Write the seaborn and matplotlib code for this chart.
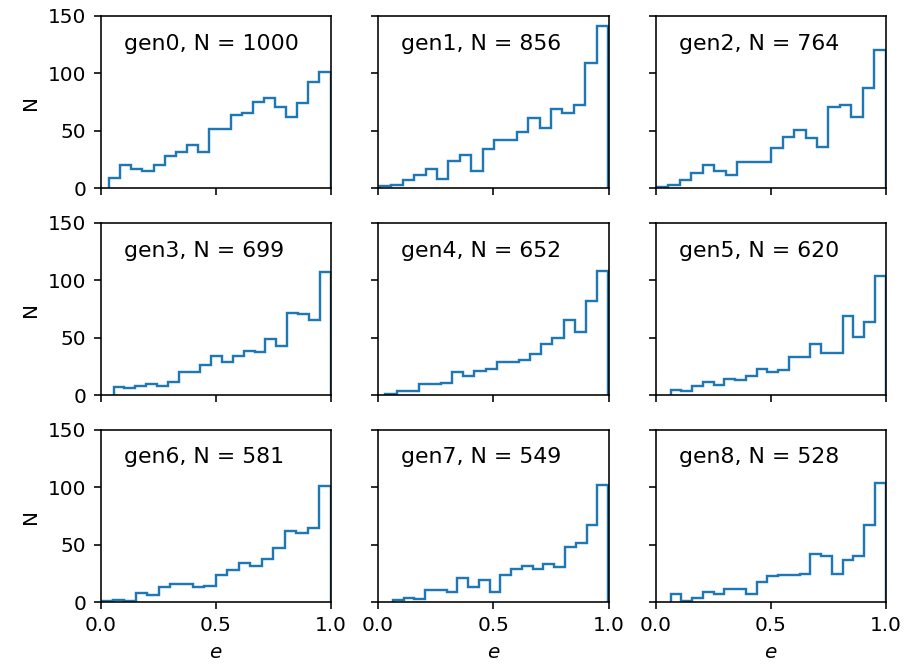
import numpy as np
import pandas as pd
import matplotlib
matplotlib.use("Agg")
import matplotlib.pyplot as plt
import seaborn as sns

# ---- data ----
gens = ["gen0", "gen1", "gen2", "gen3", "gen4", "gen5", "gen6", "gen7", "gen8"]
n_total = [1000, 856, 764, 699, 652, 620, 581, 549, 528]
e_lo = [0.038, 0.009, 0.006, 0.057, 0.032, 0.065, 0.003, 0.064, 0.065]
e_hi = [0.998] * 9

counts_gen0 = [9, 20, 17, 15, 20, 28, 32, 38, 32, 52, 52, 64, 66, 75, 79, 71, 62, 74, 93, 101]
counts_gen1 = [2, 3, 7, 12, 17, 8, 24, 29, 15, 34, 42, 42, 49, 61, 53, 69, 66, 73, 109, 141]
counts_gen2 = [1, 3, 7, 13, 20, 15, 12, 23, 23, 23, 35, 45, 51, 44, 36, 71, 73, 62, 87, 120]
counts_gen3 = [7, 6, 8, 10, 8, 12, 20, 20, 26, 34, 29, 34, 39, 38, 49, 43, 72, 71, 66, 107]
counts_gen4 = [1, 4, 4, 10, 10, 11, 20, 17, 21, 23, 29, 29, 31, 36, 45, 50, 66, 55, 82, 108]
counts_gen5 = [5, 4, 8, 12, 9, 14, 13, 17, 23, 20, 22, 33, 33, 45, 37, 37, 69, 51, 64, 104]
counts_gen6 = [1, 2, 1, 8, 6, 13, 16, 16, 13, 14, 24, 28, 34, 32, 38, 47, 62, 60, 65, 101]
counts_gen7 = [2, 4, 3, 11, 11, 9, 21, 13, 19, 9, 24, 29, 32, 29, 33, 31, 48, 52, 67, 102]
counts_gen8 = [7, 1, 4, 9, 7, 12, 12, 7, 18, 23, 24, 24, 25, 42, 40, 25, 37, 40, 67, 104]

all_counts = [counts_gen0, counts_gen1, counts_gen2, counts_gen3, counts_gen4,
              counts_gen5, counts_gen6, counts_gen7, counts_gen8]

x_ticks = [0.0, 0.5, 1.0]
y_ticks = [0, 50, 100, 150]

# ---- long table ----
rows = []
for g, lo, hi, cnts in zip(gens, e_lo, e_hi, all_counts):
    edges = np.linspace(lo, hi, len(cnts) + 1)
    centers = 0.5 * (edges[:-1] + edges[1:])
    for c, n in zip(centers, cnts):
        rows.append({"gen": g, "e": c, "count": n, "lo": lo, "hi": hi})
df = pd.DataFrame(rows)

DPI = 144
plt.rcParams["font.family"] = ["DejaVu Sans"]


def step_hist(data, **kws):
    ax = plt.gca()
    lo = data["lo"].iloc[0]
    hi = data["hi"].iloc[0]
    edges = np.linspace(lo, hi, len(data) + 1)
    ax.hist(data["e"], bins=edges, weights=data["count"], histtype="step",
            color="#1f77b4", linewidth=1.2)


g = sns.FacetGrid(df, col="gen", col_wrap=3, col_order=gens, sharex=True, sharey=True,
                  despine=False, height=2, aspect=1.2)
g.map_dataframe(step_hist)
g.set_titles(col_template="")
g.set_axis_labels("$e$", "N")
for ax, name, n in zip(g.axes.flat, gens, n_total):
    ax.set_xlim(0, 1)
    ax.set_ylim(0, 150)
    ax.set_xticks(x_ticks)
    ax.set_yticks(y_ticks)
    ax.text(0.1, 0.84, f"{name}, N = {n}", transform=ax.transAxes,
            fontsize=11, va="center", ha="left")
    ax.tick_params(labelsize=10)
    ax.xaxis.label.set_size(10)
    ax.yaxis.label.set_size(10)

fig = g.figure
fig.set_size_inches(908 / DPI, 666 / DPI)
fig.subplots_adjust(left=0.1107, right=0.9758, top=0.976, bottom=0.0956,
                    wspace=0.204, hspace=0.2)
fig.savefig("out.png", dpi=DPI)
